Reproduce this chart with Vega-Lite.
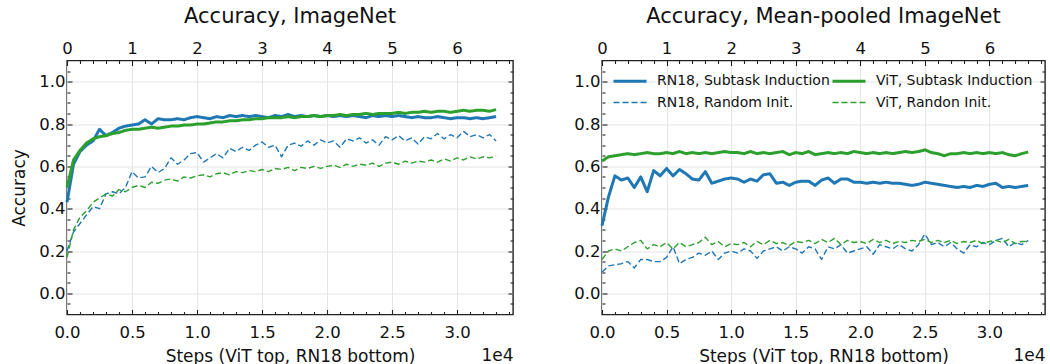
{
"$schema":"https://vega.github.io/schema/vega-lite/v6.json",
"padding":{"left":10,"top":4.5,"right":2,"bottom":0},
"config":{
 "font":"DejaVu Sans",
 "view":{"stroke":"#222","strokeWidth":1.4},
 "axis":{"labelFont":"DejaVu Sans","labelFontSize":16.5,"labelColor":"#111","titleFont":"DejaVu Sans","titleFontSize":17,"titleFontWeight":"normal","titleColor":"#111","domain":false,"tickColor":"#222","tickWidth":1.1,"gridColor":"#e4e4e4","gridWidth":1,"labelFlush":false},
 "title":{"font":"DejaVu Sans","fontSize":21,"fontWeight":"normal","color":"#111","frame":"group","offset":14},
 "legend":{"labelFont":"DejaVu Sans","labelFontSize":14,"labelColor":"#111"}
},
"resolve":{"scale":{"color":"independent","strokeDash":"independent","strokeWidth":"independent"},"legend":{"color":"independent","strokeDash":"independent","strokeWidth":"independent"}},
"spacing":58,
"datasets":{
"L":[
{"s":"rs","x":0,"y":0.43},{"s":"rs","x":500,"y":0.61},{"s":"rs","x":1000,"y":0.67},{"s":"rs","x":1500,"y":0.70},{"s":"rs","x":2000,"y":0.72},{"s":"rs","x":2500,"y":0.775},{"s":"rs","x":3000,"y":0.745},{"s":"rs","x":3500,"y":0.76},{"s":"rs","x":4000,"y":0.78},{"s":"rs","x":4500,"y":0.79},{"s":"rs","x":5000,"y":0.795},{"s":"rs","x":5500,"y":0.80},{"s":"rs","x":6000,"y":0.82},{"s":"rs","x":6500,"y":0.80},{"s":"rs","x":7000,"y":0.825},{"s":"rs","x":7500,"y":0.82},{"s":"rs","x":8000,"y":0.82},{"s":"rs","x":8500,"y":0.825},{"s":"rs","x":9000,"y":0.82},{"s":"rs","x":9500,"y":0.83},{"s":"rs","x":10000,"y":0.835},{"s":"rs","x":10500,"y":0.83},{"s":"rs","x":11000,"y":0.825},{"s":"rs","x":11500,"y":0.835},{"s":"rs","x":12000,"y":0.83},{"s":"rs","x":12500,"y":0.84},{"s":"rs","x":13000,"y":0.835},{"s":"rs","x":13500,"y":0.84},{"s":"rs","x":14000,"y":0.835},{"s":"rs","x":14500,"y":0.84},{"s":"rs","x":15000,"y":0.835},{"s":"rs","x":15500,"y":0.83},{"s":"rs","x":16000,"y":0.84},{"s":"rs","x":16500,"y":0.835},{"s":"rs","x":17000,"y":0.845},{"s":"rs","x":17500,"y":0.835},{"s":"rs","x":18000,"y":0.84},{"s":"rs","x":18500,"y":0.835},{"s":"rs","x":19000,"y":0.84},{"s":"rs","x":19500,"y":0.835},{"s":"rs","x":20000,"y":0.84},{"s":"rs","x":20500,"y":0.835},{"s":"rs","x":21000,"y":0.84},{"s":"rs","x":21500,"y":0.835},{"s":"rs","x":22000,"y":0.84},{"s":"rs","x":22500,"y":0.835},{"s":"rs","x":23000,"y":0.83},{"s":"rs","x":23500,"y":0.84},{"s":"rs","x":24000,"y":0.835},{"s":"rs","x":24500,"y":0.84},{"s":"rs","x":25000,"y":0.835},{"s":"rs","x":25500,"y":0.84},{"s":"rs","x":26000,"y":0.835},{"s":"rs","x":26500,"y":0.83},{"s":"rs","x":27000,"y":0.835},{"s":"rs","x":27500,"y":0.83},{"s":"rs","x":28000,"y":0.83},{"s":"rs","x":28500,"y":0.835},{"s":"rs","x":29000,"y":0.83},{"s":"rs","x":29500,"y":0.825},{"s":"rs","x":30000,"y":0.83},{"s":"rs","x":30500,"y":0.83},{"s":"rs","x":31000,"y":0.825},{"s":"rs","x":31500,"y":0.83},{"s":"rs","x":32000,"y":0.825},{"s":"rs","x":32500,"y":0.83},{"s":"rs","x":33000,"y":0.835},
{"s":"rr","x":0,"y":0.20},{"s":"rr","x":500,"y":0.29},{"s":"rr","x":1000,"y":0.33},{"s":"rr","x":1500,"y":0.37},{"s":"rr","x":2000,"y":0.41},{"s":"rr","x":2500,"y":0.40},{"s":"rr","x":3000,"y":0.47},{"s":"rr","x":3500,"y":0.48},{"s":"rr","x":4000,"y":0.47},{"s":"rr","x":4500,"y":0.50},{"s":"rr","x":5000,"y":0.575},{"s":"rr","x":5500,"y":0.545},{"s":"rr","x":6000,"y":0.55},{"s":"rr","x":6500,"y":0.60},{"s":"rr","x":7000,"y":0.57},{"s":"rr","x":7500,"y":0.59},{"s":"rr","x":8000,"y":0.64},{"s":"rr","x":8500,"y":0.61},{"s":"rr","x":9000,"y":0.63},{"s":"rr","x":9500,"y":0.66},{"s":"rr","x":10000,"y":0.665},{"s":"rr","x":10500,"y":0.62},{"s":"rr","x":11000,"y":0.64},{"s":"rr","x":11500,"y":0.66},{"s":"rr","x":12000,"y":0.64},{"s":"rr","x":12500,"y":0.685},{"s":"rr","x":13000,"y":0.67},{"s":"rr","x":13500,"y":0.69},{"s":"rr","x":14000,"y":0.675},{"s":"rr","x":14500,"y":0.70},{"s":"rr","x":15000,"y":0.715},{"s":"rr","x":15500,"y":0.69},{"s":"rr","x":16000,"y":0.70},{"s":"rr","x":16500,"y":0.645},{"s":"rr","x":17000,"y":0.70},{"s":"rr","x":17500,"y":0.71},{"s":"rr","x":18000,"y":0.695},{"s":"rr","x":18500,"y":0.72},{"s":"rr","x":19000,"y":0.70},{"s":"rr","x":19500,"y":0.725},{"s":"rr","x":20000,"y":0.71},{"s":"rr","x":20500,"y":0.72},{"s":"rr","x":21000,"y":0.69},{"s":"rr","x":21500,"y":0.73},{"s":"rr","x":22000,"y":0.72},{"s":"rr","x":22500,"y":0.735},{"s":"rr","x":23000,"y":0.71},{"s":"rr","x":23500,"y":0.725},{"s":"rr","x":24000,"y":0.70},{"s":"rr","x":24500,"y":0.74},{"s":"rr","x":25000,"y":0.725},{"s":"rr","x":25500,"y":0.745},{"s":"rr","x":26000,"y":0.72},{"s":"rr","x":26500,"y":0.735},{"s":"rr","x":27000,"y":0.705},{"s":"rr","x":27500,"y":0.74},{"s":"rr","x":28000,"y":0.73},{"s":"rr","x":28500,"y":0.755},{"s":"rr","x":29000,"y":0.73},{"s":"rr","x":29500,"y":0.75},{"s":"rr","x":30000,"y":0.735},{"s":"rr","x":30500,"y":0.765},{"s":"rr","x":31000,"y":0.74},{"s":"rr","x":31500,"y":0.75},{"s":"rr","x":32000,"y":0.735},{"s":"rr","x":32500,"y":0.75},{"s":"rr","x":33000,"y":0.72},
{"s":"vs","x":0,"y":0.50},{"s":"vs","x":0.1,"y":0.63},{"s":"vs","x":0.2,"y":0.675},{"s":"vs","x":0.3,"y":0.71},{"s":"vs","x":0.4,"y":0.73},{"s":"vs","x":0.5,"y":0.74},{"s":"vs","x":0.6,"y":0.745},{"s":"vs","x":0.7,"y":0.755},{"s":"vs","x":0.8,"y":0.76},{"s":"vs","x":0.9,"y":0.77},{"s":"vs","x":1.0,"y":0.775},{"s":"vs","x":1.1,"y":0.775},{"s":"vs","x":1.2,"y":0.78},{"s":"vs","x":1.3,"y":0.785},{"s":"vs","x":1.4,"y":0.78},{"s":"vs","x":1.5,"y":0.785},{"s":"vs","x":1.6,"y":0.79},{"s":"vs","x":1.7,"y":0.79},{"s":"vs","x":1.8,"y":0.795},{"s":"vs","x":1.9,"y":0.795},{"s":"vs","x":2.0,"y":0.80},{"s":"vs","x":2.1,"y":0.80},{"s":"vs","x":2.2,"y":0.805},{"s":"vs","x":2.3,"y":0.81},{"s":"vs","x":2.4,"y":0.81},{"s":"vs","x":2.5,"y":0.815},{"s":"vs","x":2.6,"y":0.815},{"s":"vs","x":2.7,"y":0.82},{"s":"vs","x":2.8,"y":0.82},{"s":"vs","x":2.9,"y":0.825},{"s":"vs","x":3.0,"y":0.825},{"s":"vs","x":3.1,"y":0.83},{"s":"vs","x":3.2,"y":0.83},{"s":"vs","x":3.3,"y":0.83},{"s":"vs","x":3.4,"y":0.835},{"s":"vs","x":3.5,"y":0.83},{"s":"vs","x":3.6,"y":0.835},{"s":"vs","x":3.7,"y":0.835},{"s":"vs","x":3.8,"y":0.84},{"s":"vs","x":3.9,"y":0.835},{"s":"vs","x":4.0,"y":0.84},{"s":"vs","x":4.1,"y":0.84},{"s":"vs","x":4.2,"y":0.845},{"s":"vs","x":4.3,"y":0.84},{"s":"vs","x":4.4,"y":0.845},{"s":"vs","x":4.5,"y":0.845},{"s":"vs","x":4.6,"y":0.85},{"s":"vs","x":4.7,"y":0.845},{"s":"vs","x":4.8,"y":0.85},{"s":"vs","x":4.9,"y":0.85},{"s":"vs","x":5.0,"y":0.85},{"s":"vs","x":5.1,"y":0.855},{"s":"vs","x":5.2,"y":0.85},{"s":"vs","x":5.3,"y":0.855},{"s":"vs","x":5.4,"y":0.855},{"s":"vs","x":5.5,"y":0.86},{"s":"vs","x":5.6,"y":0.855},{"s":"vs","x":5.7,"y":0.86},{"s":"vs","x":5.8,"y":0.86},{"s":"vs","x":5.9,"y":0.855},{"s":"vs","x":6.0,"y":0.86},{"s":"vs","x":6.1,"y":0.865},{"s":"vs","x":6.2,"y":0.86},{"s":"vs","x":6.3,"y":0.865},{"s":"vs","x":6.4,"y":0.865},{"s":"vs","x":6.5,"y":0.86},{"s":"vs","x":6.6,"y":0.868},
{"s":"vr","x":0,"y":0.17},{"s":"vr","x":0.1,"y":0.30},{"s":"vr","x":0.2,"y":0.36},{"s":"vr","x":0.3,"y":0.39},{"s":"vr","x":0.4,"y":0.43},{"s":"vr","x":0.5,"y":0.45},{"s":"vr","x":0.6,"y":0.47},{"s":"vr","x":0.7,"y":0.46},{"s":"vr","x":0.8,"y":0.49},{"s":"vr","x":0.9,"y":0.48},{"s":"vr","x":1.0,"y":0.50},{"s":"vr","x":1.1,"y":0.51},{"s":"vr","x":1.2,"y":0.50},{"s":"vr","x":1.3,"y":0.525},{"s":"vr","x":1.4,"y":0.52},{"s":"vr","x":1.5,"y":0.535},{"s":"vr","x":1.6,"y":0.54},{"s":"vr","x":1.7,"y":0.53},{"s":"vr","x":1.8,"y":0.55},{"s":"vr","x":1.9,"y":0.545},{"s":"vr","x":2.0,"y":0.555},{"s":"vr","x":2.1,"y":0.56},{"s":"vr","x":2.2,"y":0.55},{"s":"vr","x":2.3,"y":0.565},{"s":"vr","x":2.4,"y":0.57},{"s":"vr","x":2.5,"y":0.56},{"s":"vr","x":2.6,"y":0.575},{"s":"vr","x":2.7,"y":0.57},{"s":"vr","x":2.8,"y":0.58},{"s":"vr","x":2.9,"y":0.575},{"s":"vr","x":3.0,"y":0.585},{"s":"vr","x":3.1,"y":0.575},{"s":"vr","x":3.2,"y":0.59},{"s":"vr","x":3.3,"y":0.585},{"s":"vr","x":3.4,"y":0.595},{"s":"vr","x":3.5,"y":0.58},{"s":"vr","x":3.6,"y":0.595},{"s":"vr","x":3.7,"y":0.59},{"s":"vr","x":3.8,"y":0.60},{"s":"vr","x":3.9,"y":0.59},{"s":"vr","x":4.0,"y":0.60},{"s":"vr","x":4.1,"y":0.605},{"s":"vr","x":4.2,"y":0.595},{"s":"vr","x":4.3,"y":0.61},{"s":"vr","x":4.4,"y":0.60},{"s":"vr","x":4.5,"y":0.61},{"s":"vr","x":4.6,"y":0.605},{"s":"vr","x":4.7,"y":0.615},{"s":"vr","x":4.8,"y":0.60},{"s":"vr","x":4.9,"y":0.615},{"s":"vr","x":5.0,"y":0.62},{"s":"vr","x":5.1,"y":0.61},{"s":"vr","x":5.2,"y":0.625},{"s":"vr","x":5.3,"y":0.615},{"s":"vr","x":5.4,"y":0.625},{"s":"vr","x":5.5,"y":0.62},{"s":"vr","x":5.6,"y":0.63},{"s":"vr","x":5.7,"y":0.62},{"s":"vr","x":5.8,"y":0.635},{"s":"vr","x":5.9,"y":0.625},{"s":"vr","x":6.0,"y":0.64},{"s":"vr","x":6.1,"y":0.63},{"s":"vr","x":6.2,"y":0.645},{"s":"vr","x":6.3,"y":0.635},{"s":"vr","x":6.4,"y":0.645},{"s":"vr","x":6.5,"y":0.64},{"s":"vr","x":6.6,"y":0.65}
],
"R":[
{"s":"rs","x":0,"y":0.32},{"s":"rs","x":500,"y":0.455},{"s":"rs","x":1000,"y":0.555},{"s":"rs","x":1500,"y":0.535},{"s":"rs","x":2000,"y":0.545},{"s":"rs","x":2500,"y":0.50},{"s":"rs","x":3000,"y":0.55},{"s":"rs","x":3500,"y":0.48},{"s":"rs","x":4000,"y":0.58},{"s":"rs","x":4500,"y":0.555},{"s":"rs","x":5000,"y":0.59},{"s":"rs","x":5500,"y":0.555},{"s":"rs","x":6000,"y":0.585},{"s":"rs","x":6500,"y":0.565},{"s":"rs","x":7000,"y":0.54},{"s":"rs","x":7500,"y":0.535},{"s":"rs","x":8000,"y":0.575},{"s":"rs","x":8500,"y":0.52},{"s":"rs","x":9000,"y":0.53},{"s":"rs","x":9500,"y":0.54},{"s":"rs","x":10000,"y":0.545},{"s":"rs","x":10500,"y":0.54},{"s":"rs","x":11000,"y":0.525},{"s":"rs","x":11500,"y":0.54},{"s":"rs","x":12000,"y":0.53},{"s":"rs","x":12500,"y":0.56},{"s":"rs","x":13000,"y":0.565},{"s":"rs","x":13500,"y":0.52},{"s":"rs","x":14000,"y":0.525},{"s":"rs","x":14500,"y":0.51},{"s":"rs","x":15000,"y":0.525},{"s":"rs","x":15500,"y":0.53},{"s":"rs","x":16000,"y":0.53},{"s":"rs","x":16500,"y":0.51},{"s":"rs","x":17000,"y":0.535},{"s":"rs","x":17500,"y":0.545},{"s":"rs","x":18000,"y":0.52},{"s":"rs","x":18500,"y":0.54},{"s":"rs","x":19000,"y":0.54},{"s":"rs","x":19500,"y":0.525},{"s":"rs","x":20000,"y":0.525},{"s":"rs","x":20500,"y":0.52},{"s":"rs","x":21000,"y":0.525},{"s":"rs","x":21500,"y":0.52},{"s":"rs","x":22000,"y":0.525},{"s":"rs","x":22500,"y":0.52},{"s":"rs","x":23000,"y":0.52},{"s":"rs","x":23500,"y":0.515},{"s":"rs","x":24000,"y":0.51},{"s":"rs","x":24500,"y":0.515},{"s":"rs","x":25000,"y":0.525},{"s":"rs","x":25500,"y":0.52},{"s":"rs","x":26000,"y":0.515},{"s":"rs","x":26500,"y":0.51},{"s":"rs","x":27000,"y":0.505},{"s":"rs","x":27500,"y":0.50},{"s":"rs","x":28000,"y":0.505},{"s":"rs","x":28500,"y":0.50},{"s":"rs","x":29000,"y":0.51},{"s":"rs","x":29500,"y":0.505},{"s":"rs","x":30000,"y":0.515},{"s":"rs","x":30500,"y":0.52},{"s":"rs","x":31000,"y":0.50},{"s":"rs","x":31500,"y":0.505},{"s":"rs","x":32000,"y":0.50},{"s":"rs","x":32500,"y":0.505},{"s":"rs","x":33000,"y":0.51},
{"s":"rr","x":0,"y":0.10},{"s":"rr","x":500,"y":0.13},{"s":"rr","x":1000,"y":0.135},{"s":"rr","x":1500,"y":0.14},{"s":"rr","x":2000,"y":0.15},{"s":"rr","x":2500,"y":0.12},{"s":"rr","x":3000,"y":0.16},{"s":"rr","x":3500,"y":0.16},{"s":"rr","x":4000,"y":0.15},{"s":"rr","x":4500,"y":0.15},{"s":"rr","x":5000,"y":0.17},{"s":"rr","x":5500,"y":0.22},{"s":"rr","x":6000,"y":0.14},{"s":"rr","x":6500,"y":0.16},{"s":"rr","x":7000,"y":0.17},{"s":"rr","x":7500,"y":0.19},{"s":"rr","x":8000,"y":0.18},{"s":"rr","x":8500,"y":0.20},{"s":"rr","x":9000,"y":0.16},{"s":"rr","x":9500,"y":0.19},{"s":"rr","x":10000,"y":0.20},{"s":"rr","x":10500,"y":0.19},{"s":"rr","x":11000,"y":0.21},{"s":"rr","x":11500,"y":0.20},{"s":"rr","x":12000,"y":0.165},{"s":"rr","x":12500,"y":0.20},{"s":"rr","x":13000,"y":0.21},{"s":"rr","x":13500,"y":0.22},{"s":"rr","x":14000,"y":0.20},{"s":"rr","x":14500,"y":0.22},{"s":"rr","x":15000,"y":0.21},{"s":"rr","x":15500,"y":0.19},{"s":"rr","x":16000,"y":0.22},{"s":"rr","x":16500,"y":0.21},{"s":"rr","x":17000,"y":0.16},{"s":"rr","x":17500,"y":0.22},{"s":"rr","x":18000,"y":0.21},{"s":"rr","x":18500,"y":0.23},{"s":"rr","x":19000,"y":0.19},{"s":"rr","x":19500,"y":0.20},{"s":"rr","x":20000,"y":0.21},{"s":"rr","x":20500,"y":0.22},{"s":"rr","x":21000,"y":0.185},{"s":"rr","x":21500,"y":0.23},{"s":"rr","x":22000,"y":0.22},{"s":"rr","x":22500,"y":0.21},{"s":"rr","x":23000,"y":0.23},{"s":"rr","x":23500,"y":0.21},{"s":"rr","x":24000,"y":0.20},{"s":"rr","x":24500,"y":0.23},{"s":"rr","x":25000,"y":0.28},{"s":"rr","x":25500,"y":0.23},{"s":"rr","x":26000,"y":0.24},{"s":"rr","x":26500,"y":0.22},{"s":"rr","x":27000,"y":0.24},{"s":"rr","x":27500,"y":0.21},{"s":"rr","x":28000,"y":0.19},{"s":"rr","x":28500,"y":0.23},{"s":"rr","x":29000,"y":0.22},{"s":"rr","x":29500,"y":0.24},{"s":"rr","x":30000,"y":0.23},{"s":"rr","x":30500,"y":0.25},{"s":"rr","x":31000,"y":0.26},{"s":"rr","x":31500,"y":0.22},{"s":"rr","x":32000,"y":0.24},{"s":"rr","x":32500,"y":0.23},{"s":"rr","x":33000,"y":0.25},
{"s":"vs","x":0,"y":0.625},{"s":"vs","x":0.1,"y":0.645},{"s":"vs","x":0.2,"y":0.65},{"s":"vs","x":0.3,"y":0.655},{"s":"vs","x":0.4,"y":0.66},{"s":"vs","x":0.5,"y":0.655},{"s":"vs","x":0.6,"y":0.66},{"s":"vs","x":0.7,"y":0.665},{"s":"vs","x":0.8,"y":0.66},{"s":"vs","x":0.9,"y":0.66},{"s":"vs","x":1.0,"y":0.665},{"s":"vs","x":1.1,"y":0.66},{"s":"vs","x":1.2,"y":0.67},{"s":"vs","x":1.3,"y":0.66},{"s":"vs","x":1.4,"y":0.665},{"s":"vs","x":1.5,"y":0.66},{"s":"vs","x":1.6,"y":0.665},{"s":"vs","x":1.7,"y":0.66},{"s":"vs","x":1.8,"y":0.665},{"s":"vs","x":1.9,"y":0.67},{"s":"vs","x":2.0,"y":0.665},{"s":"vs","x":2.1,"y":0.665},{"s":"vs","x":2.2,"y":0.66},{"s":"vs","x":2.3,"y":0.67},{"s":"vs","x":2.4,"y":0.66},{"s":"vs","x":2.5,"y":0.665},{"s":"vs","x":2.6,"y":0.66},{"s":"vs","x":2.7,"y":0.665},{"s":"vs","x":2.8,"y":0.67},{"s":"vs","x":2.9,"y":0.655},{"s":"vs","x":3.0,"y":0.665},{"s":"vs","x":3.1,"y":0.66},{"s":"vs","x":3.2,"y":0.67},{"s":"vs","x":3.3,"y":0.655},{"s":"vs","x":3.4,"y":0.66},{"s":"vs","x":3.5,"y":0.665},{"s":"vs","x":3.6,"y":0.66},{"s":"vs","x":3.7,"y":0.665},{"s":"vs","x":3.8,"y":0.66},{"s":"vs","x":3.9,"y":0.67},{"s":"vs","x":4.0,"y":0.665},{"s":"vs","x":4.1,"y":0.66},{"s":"vs","x":4.2,"y":0.665},{"s":"vs","x":4.3,"y":0.66},{"s":"vs","x":4.4,"y":0.665},{"s":"vs","x":4.5,"y":0.66},{"s":"vs","x":4.6,"y":0.665},{"s":"vs","x":4.7,"y":0.67},{"s":"vs","x":4.8,"y":0.665},{"s":"vs","x":4.9,"y":0.67},{"s":"vs","x":5.0,"y":0.678},{"s":"vs","x":5.1,"y":0.665},{"s":"vs","x":5.2,"y":0.66},{"s":"vs","x":5.3,"y":0.65},{"s":"vs","x":5.4,"y":0.66},{"s":"vs","x":5.5,"y":0.66},{"s":"vs","x":5.6,"y":0.665},{"s":"vs","x":5.7,"y":0.66},{"s":"vs","x":5.8,"y":0.665},{"s":"vs","x":5.9,"y":0.66},{"s":"vs","x":6.0,"y":0.665},{"s":"vs","x":6.1,"y":0.66},{"s":"vs","x":6.2,"y":0.665},{"s":"vs","x":6.3,"y":0.655},{"s":"vs","x":6.4,"y":0.65},{"s":"vs","x":6.5,"y":0.66},{"s":"vs","x":6.6,"y":0.668},
{"s":"vr","x":0,"y":0.16},{"s":"vr","x":0.1,"y":0.20},{"s":"vr","x":0.2,"y":0.21},{"s":"vr","x":0.3,"y":0.20},{"s":"vr","x":0.4,"y":0.22},{"s":"vr","x":0.5,"y":0.24},{"s":"vr","x":0.6,"y":0.25},{"s":"vr","x":0.7,"y":0.21},{"s":"vr","x":0.8,"y":0.23},{"s":"vr","x":0.9,"y":0.22},{"s":"vr","x":1.0,"y":0.24},{"s":"vr","x":1.1,"y":0.21},{"s":"vr","x":1.2,"y":0.24},{"s":"vr","x":1.3,"y":0.22},{"s":"vr","x":1.4,"y":0.23},{"s":"vr","x":1.5,"y":0.24},{"s":"vr","x":1.6,"y":0.265},{"s":"vr","x":1.7,"y":0.23},{"s":"vr","x":1.8,"y":0.245},{"s":"vr","x":1.9,"y":0.22},{"s":"vr","x":2.0,"y":0.235},{"s":"vr","x":2.1,"y":0.23},{"s":"vr","x":2.2,"y":0.24},{"s":"vr","x":2.3,"y":0.22},{"s":"vr","x":2.4,"y":0.245},{"s":"vr","x":2.5,"y":0.23},{"s":"vr","x":2.6,"y":0.25},{"s":"vr","x":2.7,"y":0.235},{"s":"vr","x":2.8,"y":0.24},{"s":"vr","x":2.9,"y":0.225},{"s":"vr","x":3.0,"y":0.245},{"s":"vr","x":3.1,"y":0.24},{"s":"vr","x":3.2,"y":0.25},{"s":"vr","x":3.3,"y":0.235},{"s":"vr","x":3.4,"y":0.255},{"s":"vr","x":3.5,"y":0.24},{"s":"vr","x":3.6,"y":0.26},{"s":"vr","x":3.7,"y":0.23},{"s":"vr","x":3.8,"y":0.25},{"s":"vr","x":3.9,"y":0.24},{"s":"vr","x":4.0,"y":0.245},{"s":"vr","x":4.1,"y":0.235},{"s":"vr","x":4.2,"y":0.255},{"s":"vr","x":4.3,"y":0.24},{"s":"vr","x":4.4,"y":0.25},{"s":"vr","x":4.5,"y":0.235},{"s":"vr","x":4.6,"y":0.245},{"s":"vr","x":4.7,"y":0.24},{"s":"vr","x":4.8,"y":0.25},{"s":"vr","x":4.9,"y":0.245},{"s":"vr","x":5.0,"y":0.255},{"s":"vr","x":5.1,"y":0.24},{"s":"vr","x":5.2,"y":0.25},{"s":"vr","x":5.3,"y":0.24},{"s":"vr","x":5.4,"y":0.25},{"s":"vr","x":5.5,"y":0.235},{"s":"vr","x":5.6,"y":0.245},{"s":"vr","x":5.7,"y":0.24},{"s":"vr","x":5.8,"y":0.25},{"s":"vr","x":5.9,"y":0.235},{"s":"vr","x":6.0,"y":0.245},{"s":"vr","x":6.1,"y":0.25},{"s":"vr","x":6.2,"y":0.24},{"s":"vr","x":6.3,"y":0.255},{"s":"vr","x":6.4,"y":0.235},{"s":"vr","x":6.5,"y":0.245},{"s":"vr","x":6.6,"y":0.245}
]},
"hconcat":[
{
 "title":{"text":"Accuracy, ImageNet"},
 "width":446,"height":254,
 "data":{"name":"L"},
 "resolve":{"scale":{"x":"independent","y":"independent"}},
 "layer":[
  {"transform":[{"filter":"datum.s=='rs'"}],
   "mark":{"type":"line","strokeJoin":"round"},
   "encoding":{
    "x":{"field":"x","type":"quantitative","scale":{"domain":[0,34300],"nice":false,"zero":false},"axis":{"orient":"bottom","values":[0,5000,10000,15000,20000,25000,30000],"labelExpr":"format(datum.value/10000,'.1f')","grid":true,"tickSize":-5,"labelPadding":15,"title":"Steps (ViT top, RN18 bottom)","titlePadding":7}},
    "y":{"field":"y","type":"quantitative","scale":{"domain":[-0.1,1.1],"nice":false,"zero":false},"axis":{"orient":"left","values":[0,0.2,0.4,0.6,0.8,1.0],"format":".1f","grid":true,"tickSize":-5,"labelPadding":7,"title":"Accuracy","titlePadding":10}},
    "color":{"field":"s","type":"nominal","scale":{"domain":["rs","rr","vs","vr"],"range":["#1f77b4","#1f77b4","#2ca02c","#2ca02c"]},"legend":null},
    "strokeDash":{"field":"s","type":"nominal","scale":{"domain":["rs","rr","vs","vr"],"range":[[1,0],[6,3],[1,0],[6,3]]},"legend":null},
    "strokeWidth":{"field":"s","type":"nominal","scale":{"type":"ordinal","domain":["rs","rr","vs","vr"],"range":[3,1.4,3,1.4]},"legend":null}
   }},
  {"transform":[{"filter":"datum.s=='rr'"}],
   "mark":{"type":"line","strokeJoin":"round"},
   "encoding":{
    "x":{"field":"x","type":"quantitative","scale":{"domain":[0,34300],"nice":false,"zero":false},"axis":{"orient":"bottom","values":[1000,2000,3000,4000,6000,7000,8000,9000,11000,12000,13000,14000,16000,17000,18000,19000,21000,22000,23000,24000,26000,27000,28000,29000,31000,32000,33000,34000],"labels":false,"grid":false,"tickSize":-3,"title":"1e4","titleAnchor":"end","titlePadding":32}},
    "y":{"field":"y","type":"quantitative","scale":{"domain":[-0.1,1.1],"nice":false,"zero":false},"axis":{"orient":"left","values":[-0.05,0.05,0.1,0.15,0.25,0.3,0.35,0.45,0.5,0.55,0.65,0.7,0.75,0.85,0.9,0.95,1.05],"labels":false,"grid":false,"tickSize":-3,"title":null}},
    "color":{"field":"s","type":"nominal","scale":{"domain":["rs","rr","vs","vr"],"range":["#1f77b4","#1f77b4","#2ca02c","#2ca02c"]},"legend":null},
    "strokeDash":{"field":"s","type":"nominal","scale":{"domain":["rs","rr","vs","vr"],"range":[[1,0],[6,3],[1,0],[6,3]]},"legend":null},
    "strokeWidth":{"field":"s","type":"nominal","scale":{"type":"ordinal","domain":["rs","rr","vs","vr"],"range":[3,1.4,3,1.4]},"legend":null}
   }},
  {"transform":[{"filter":"datum.s=='vs'"}],
   "mark":{"type":"line","strokeJoin":"round"},
   "encoding":{
    "x":{"field":"x","type":"quantitative","scale":{"domain":[0,6.86],"nice":false,"zero":false},"axis":{"orient":"top","values":[0,1,2,3,4,5,6],"format":"d","grid":false,"tickSize":-5,"labelPadding":9,"title":null}},
    "y":{"field":"y","type":"quantitative","scale":{"domain":[-0.1,1.1],"nice":false,"zero":false},"axis":{"orient":"right","values":[0,0.2,0.4,0.6,0.8,1.0],"labels":false,"grid":false,"tickSize":-5,"title":null}},
    "color":{"field":"s","type":"nominal","scale":{"domain":["rs","rr","vs","vr"],"range":["#1f77b4","#1f77b4","#2ca02c","#2ca02c"]},"legend":null},
    "strokeDash":{"field":"s","type":"nominal","scale":{"domain":["rs","rr","vs","vr"],"range":[[1,0],[6,3],[1,0],[6,3]]},"legend":null},
    "strokeWidth":{"field":"s","type":"nominal","scale":{"type":"ordinal","domain":["rs","rr","vs","vr"],"range":[3,1.4,3,1.4]},"legend":null}
   }},
  {"transform":[{"filter":"datum.s=='vr'"}],
   "mark":{"type":"line","strokeJoin":"round"},
   "encoding":{
    "x":{"field":"x","type":"quantitative","scale":{"domain":[0,6.86],"nice":false,"zero":false},"axis":{"orient":"top","values":[0.2,0.4,0.6,0.8,1.2,1.4,1.6,1.8,2.2,2.4,2.6,2.8,3.2,3.4,3.6,3.8,4.2,4.4,4.6,4.8,5.2,5.4,5.6,5.8,6.2,6.4,6.6,6.8],"labels":false,"grid":false,"tickSize":-3,"title":null}},
    "y":{"field":"y","type":"quantitative","scale":{"domain":[-0.1,1.1],"nice":false,"zero":false},"axis":{"orient":"right","values":[-0.05,0.05,0.1,0.15,0.25,0.3,0.35,0.45,0.5,0.55,0.65,0.7,0.75,0.85,0.9,0.95,1.05],"labels":false,"grid":false,"tickSize":-3,"title":null}},
    "color":{"field":"s","type":"nominal","scale":{"domain":["rs","rr","vs","vr"],"range":["#1f77b4","#1f77b4","#2ca02c","#2ca02c"]},"legend":null},
    "strokeDash":{"field":"s","type":"nominal","scale":{"domain":["rs","rr","vs","vr"],"range":[[1,0],[6,3],[1,0],[6,3]]},"legend":null},
    "strokeWidth":{"field":"s","type":"nominal","scale":{"type":"ordinal","domain":["rs","rr","vs","vr"],"range":[3,1.4,3,1.4]},"legend":null}
   }}
 ]
},
{
 "title":{"text":"Accuracy, Mean-pooled ImageNet"},
 "width":443,"height":254,
 "data":{"name":"R"},
 "resolve":{"scale":{"x":"independent","y":"independent"}},
 "layer":[
  {"transform":[{"filter":"datum.s=='rs'"}],
   "mark":{"type":"line","strokeJoin":"round"},
   "encoding":{
    "x":{"field":"x","type":"quantitative","scale":{"domain":[0,34300],"nice":false,"zero":false},"axis":{"orient":"bottom","values":[0,5000,10000,15000,20000,25000,30000],"labelExpr":"format(datum.value/10000,'.1f')","grid":true,"tickSize":-5,"labelPadding":15,"title":"Steps (ViT top, RN18 bottom)","titlePadding":7}},
    "y":{"field":"y","type":"quantitative","scale":{"domain":[-0.1,1.1],"nice":false,"zero":false},"axis":{"orient":"left","values":[0,0.2,0.4,0.6,0.8,1.0],"format":".1f","grid":true,"tickSize":-5,"labelPadding":7,"title":null}},
    "color":{"field":"s","type":"nominal","scale":{"domain":["rs","rr","vs","vr"],"range":["#1f77b4","#1f77b4","#2ca02c","#2ca02c"]},"legend":{"orient":"none","legendX":10,"legendY":9,"columns":2,"title":null,"symbolType":"M-1,0H2.3","symbolSize":400,"labelFontSize":14,"labelLimit":400,"columnPadding":-4,"rowPadding":3,"padding":0,"labelOffset":22,"labelExpr":"datum.label=='rs'?'RN18, Subtask Induction':datum.label=='vs'?'ViT, Subtask Induction':datum.label=='rr'?'RN18, Random Init.':'ViT, Randon Init.'"}},
    "strokeDash":{"field":"s","type":"nominal","scale":{"domain":["rs","rr","vs","vr"],"range":[[1,0],[6,3],[1,0],[6,3]]}},
    "strokeWidth":{"field":"s","type":"nominal","scale":{"type":"ordinal","domain":["rs","rr","vs","vr"],"range":[3,1.4,3,1.4]}}
   }},
  {"transform":[{"filter":"datum.s=='rr'"}],
   "mark":{"type":"line","strokeJoin":"round"},
   "encoding":{
    "x":{"field":"x","type":"quantitative","scale":{"domain":[0,34300],"nice":false,"zero":false},"axis":{"orient":"bottom","values":[1000,2000,3000,4000,6000,7000,8000,9000,11000,12000,13000,14000,16000,17000,18000,19000,21000,22000,23000,24000,26000,27000,28000,29000,31000,32000,33000,34000],"labels":false,"grid":false,"tickSize":-3,"title":"1e4","titleAnchor":"end","titlePadding":32}},
    "y":{"field":"y","type":"quantitative","scale":{"domain":[-0.1,1.1],"nice":false,"zero":false},"axis":{"orient":"left","values":[-0.05,0.05,0.1,0.15,0.25,0.3,0.35,0.45,0.5,0.55,0.65,0.7,0.75,0.85,0.9,0.95,1.05],"labels":false,"grid":false,"tickSize":-3,"title":null}},
    "color":{"field":"s","type":"nominal","scale":{"domain":["rs","rr","vs","vr"],"range":["#1f77b4","#1f77b4","#2ca02c","#2ca02c"]}},
    "strokeDash":{"field":"s","type":"nominal","scale":{"domain":["rs","rr","vs","vr"],"range":[[1,0],[6,3],[1,0],[6,3]]}},
    "strokeWidth":{"field":"s","type":"nominal","scale":{"type":"ordinal","domain":["rs","rr","vs","vr"],"range":[3,1.4,3,1.4]}}
   }},
  {"transform":[{"filter":"datum.s=='vs'"}],
   "mark":{"type":"line","strokeJoin":"round"},
   "encoding":{
    "x":{"field":"x","type":"quantitative","scale":{"domain":[0,6.86],"nice":false,"zero":false},"axis":{"orient":"top","values":[0,1,2,3,4,5,6],"format":"d","grid":false,"tickSize":-5,"labelPadding":9,"title":null}},
    "y":{"field":"y","type":"quantitative","scale":{"domain":[-0.1,1.1],"nice":false,"zero":false},"axis":{"orient":"right","values":[0,0.2,0.4,0.6,0.8,1.0],"labels":false,"grid":false,"tickSize":-5,"title":null}},
    "color":{"field":"s","type":"nominal","scale":{"domain":["rs","rr","vs","vr"],"range":["#1f77b4","#1f77b4","#2ca02c","#2ca02c"]}},
    "strokeDash":{"field":"s","type":"nominal","scale":{"domain":["rs","rr","vs","vr"],"range":[[1,0],[6,3],[1,0],[6,3]]}},
    "strokeWidth":{"field":"s","type":"nominal","scale":{"type":"ordinal","domain":["rs","rr","vs","vr"],"range":[3,1.4,3,1.4]}}
   }},
  {"transform":[{"filter":"datum.s=='vr'"}],
   "mark":{"type":"line","strokeJoin":"round"},
   "encoding":{
    "x":{"field":"x","type":"quantitative","scale":{"domain":[0,6.86],"nice":false,"zero":false},"axis":{"orient":"top","values":[0.2,0.4,0.6,0.8,1.2,1.4,1.6,1.8,2.2,2.4,2.6,2.8,3.2,3.4,3.6,3.8,4.2,4.4,4.6,4.8,5.2,5.4,5.6,5.8,6.2,6.4,6.6,6.8],"labels":false,"grid":false,"tickSize":-3,"title":null}},
    "y":{"field":"y","type":"quantitative","scale":{"domain":[-0.1,1.1],"nice":false,"zero":false},"axis":{"orient":"right","values":[-0.05,0.05,0.1,0.15,0.25,0.3,0.35,0.45,0.5,0.55,0.65,0.7,0.75,0.85,0.9,0.95,1.05],"labels":false,"grid":false,"tickSize":-3,"title":null}},
    "color":{"field":"s","type":"nominal","scale":{"domain":["rs","rr","vs","vr"],"range":["#1f77b4","#1f77b4","#2ca02c","#2ca02c"]}},
    "strokeDash":{"field":"s","type":"nominal","scale":{"domain":["rs","rr","vs","vr"],"range":[[1,0],[6,3],[1,0],[6,3]]}},
    "strokeWidth":{"field":"s","type":"nominal","scale":{"type":"ordinal","domain":["rs","rr","vs","vr"],"range":[3,1.4,3,1.4]}}
   }}
 ]
}
]
}
